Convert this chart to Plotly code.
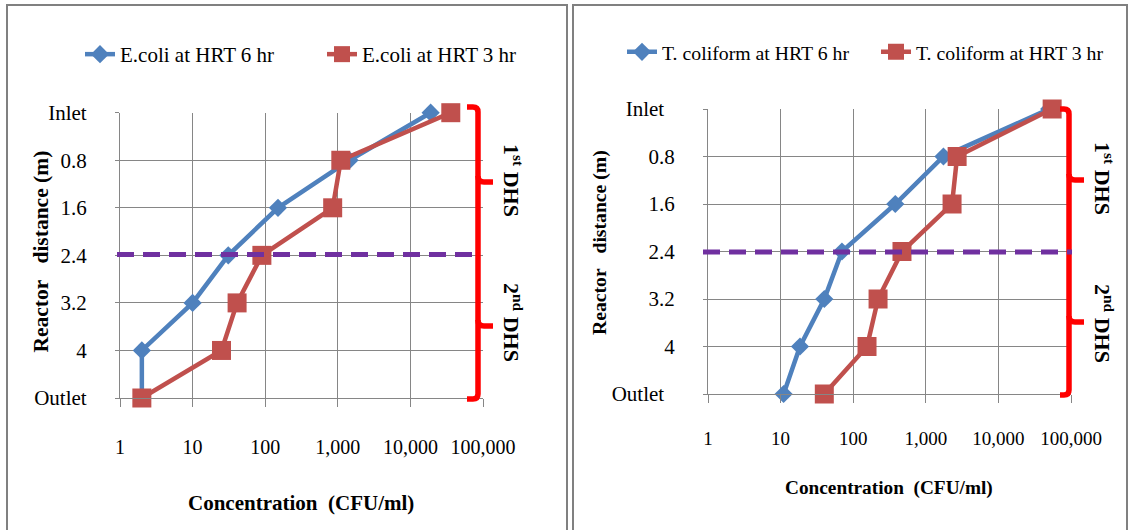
import plotly.graph_objects as go

# ---------------- data ----------------
categories = ["Inlet", "0.8", "1.6", "2.4", "3.2", "4", "Outlet"]
ecoli_hrt6 = [19000, 1450, 150, 31, 10, 2, 2]
ecoli_hrt3 = [36000, 1100, 850, 90, 41, 25, 2]
tcoli_hrt6 = [50000, 1750, 380, 70, 40, 18.5, 11]
tcoli_hrt3 = [55000, 2700, 2300, 470, 220, 155, 40]
x_tickvals = [1, 10, 100, 1000, 10000, 100000]
x_ticktext = ["1", "10", "100", "1,000", "10,000", "100,000"]

W, H = 1132, 530
FONT = "Liberation Serif"
BLUE = "#4F81BD"
RED = "#C0504D"
GRID = "#868686"
nb = "\u00a0"


def px(x):
    return x / W


def py(y):
    return 1 - y / H


fig = go.Figure()

series = [
    ("E.coli at HRT 6 hr", ecoli_hrt6, BLUE, "diamond", 14, "x", "y", "legend"),
    ("E.coli at HRT 3 hr", ecoli_hrt3, RED, "square", 19, "x", "y", "legend2"),
    ("T. coliform at HRT 6 hr", tcoli_hrt6, BLUE, "diamond", 14, "x2", "y2", "legend3"),
    ("T. coliform at HRT 3 hr", tcoli_hrt3, RED, "square", 19, "x2", "y2", "legend4"),
]
for name, vals, col, sym, size, xa, ya, lg in series:
    fig.add_trace(go.Scatter(
        x=vals, y=categories, name=name, mode="lines+markers",
        line=dict(color=col, width=4.5),
        marker=dict(symbol=sym, size=size, color=col, line=dict(width=0)),
        xaxis=xa, yaxis=ya, legend=lg, cliponaxis=False, showlegend=True,
    ))

order = list(reversed(categories))

def xaxis_cfg(x0, x1, anchor, fs, standoff):
    return dict(
        type="log", range=[0, 5], domain=[px(x0), px(x1)], anchor=anchor,
        showgrid=True, gridcolor=GRID, gridwidth=1.3,
        showline=True, linecolor=GRID, linewidth=1.3,
        ticks="outside", ticklen=8, tickcolor=GRID, tickwidth=1.3,
        tickvals=x_tickvals, ticktext=x_ticktext,
        tickfont=dict(family=FONT, size=fs, color="black"),
        ticklabelstandoff=standoff, zeroline=False, automargin=False,
    )


def yaxis_cfg(y0, y1, anchor, pad_words):
    ticktext = [c + (nb * 2 if (pad_words and not c[0].isdigit()) else "") for c in categories]
    return dict(
        type="category", categoryorder="array", categoryarray=order,
        range=[0, 6], domain=[py(y1), py(y0)], anchor=anchor,
        tickvals=categories, ticktext=ticktext,
        showgrid=True, gridcolor=GRID, gridwidth=1.3,
        showline=True, linecolor=GRID, linewidth=1.3,
        ticks="outside", ticklen=4, tickcolor=GRID, tickwidth=1.3,
        tickfont=dict(family=FONT, size=21, color="black"),
        ticklabelstandoff=24, zeroline=False, automargin=False,
    )


layout = dict(
    width=W, height=H, margin=dict(l=0, r=0, t=0, b=0),
    paper_bgcolor="white", plot_bgcolor="white", showlegend=True,
    xaxis=xaxis_cfg(120, 483, "y", 20, 23),
    yaxis=yaxis_cfg(112.7, 398, "x", False),
    xaxis2=xaxis_cfg(708, 1071, "y2", 19, 19),
    yaxis2=yaxis_cfg(109, 394, "x2", True),
)

# legends: one per entry for precise placement
leg_pos = [("legend", 80, 54.5, 21), ("legend2", 322, 54.5, 21),
           ("legend3", 622, 52, 19.8), ("legend4", 876, 52, 19.8)]
for key, lx, ly, fs in leg_pos:
    layout[key] = dict(x=px(lx), y=py(ly), xanchor="left", yanchor="middle",
                       bgcolor="rgba(0,0,0,0)", borderwidth=0, visible=True,
                       font=dict(family=FONT, size=fs, color="black"))
fig.update_layout(**layout)

# ---------------- shapes ----------------
shapes = []
# panel borders
for x0, x1 in [(7, 567), (573, 1127)]:
    shapes.append(dict(type="rect", xref="paper", yref="paper",
                       x0=px(x0), x1=px(x1), y0=py(545), y1=py(5),
                       line=dict(color="#808080", width=2), fillcolor="rgba(0,0,0,0)",
                       layer="below"))


def path(points):
    s = ""
    for cmd, pts in points:
        s += cmd + " " + " ".join(f"{px(a):.5f},{py(b):.5f}" for a, b in pts) + " "
    return s.strip()


def bracket(xv, ytop, ybot, xhook, tips, xtip):
    out = []
    out.append(path([("M", [(xhook, ytop)]), ("L", [(xv - 5, ytop)]),
                     ("Q", [(xv, ytop), (xv, ytop + 5)]),
                     ("L", [(xv, ybot - 5)]),
                     ("Q", [(xv, ybot), (xv - 5, ybot)]),
                     ("L", [(xhook, ybot)])]))
    for ty in tips:
        out.append(path([("M", [(xv, ty - 6)]), ("Q", [(xv, ty), (xv + 6, ty)]),
                         ("L", [(xtip, ty)])]))
    return out


for p in bracket(478, 107, 399, 467, [182, 326], 493) + bracket(1069, 109, 395, 1060, [180, 322], 1084):
    shapes.append(dict(type="path", xref="paper", yref="paper", path=p,
                       line=dict(color="#FF0000", width=5.5), layer="above"))

# purple boundary between the two DHS stages
for x0, x1, yy in [(117, 481, 254.5), (703, 1072, 252)]:
    shapes.append(dict(type="line", xref="paper", yref="paper",
                       x0=px(x0), x1=px(x1), y0=py(yy), y1=py(yy),
                       line=dict(color="#7030A0", width=5, dash="17px,9px"),
                       layer="above"))
fig.update_layout(shapes=shapes)

# ---------------- text annotations ----------------
ann = []
for cx, cy, fs in [(301, 503, 21), (889, 488, 19.3)]:
    ann.append(dict(text=f"<b>Concentration{nb}{nb}(CFU/ml)</b>", x=px(cx), y=py(cy),
                    xref="paper", yref="paper", showarrow=False,
                    xanchor="center", yanchor="middle",
                    font=dict(family=FONT, size=fs, color="black")))
for cx, cy, fs in [(40, 251.5, 21.5), (599, 243, 19.7)]:
    ann.append(dict(text=f"<b>Reactor{nb}{nb}{nb}distance (m)</b>", x=px(cx), y=py(cy),
                    xref="paper", yref="paper", showarrow=False, textangle=-90,
                    xanchor="center", yanchor="middle",
                    font=dict(family=FONT, size=fs, color="black")))
for cx, cy, txt in [(513, 180, f"1<sup>st</sup>{nb}DHS"), (513, 322, f"2<sup>nd</sup>{nb}DHS"),
                    (1104, 178, f"1<sup>st</sup>{nb}DHS"), (1104, 323, f"2<sup>nd</sup>{nb}DHS")]:
    ann.append(dict(text=f"<b>{txt}</b>", x=px(cx), y=py(cy),
                    xref="paper", yref="paper", showarrow=False, textangle=90,
                    xanchor="center", yanchor="middle",
                    font=dict(family=FONT, size=22, color="black")))
fig.update_layout(annotations=ann)

fig.write_html("out.html")
